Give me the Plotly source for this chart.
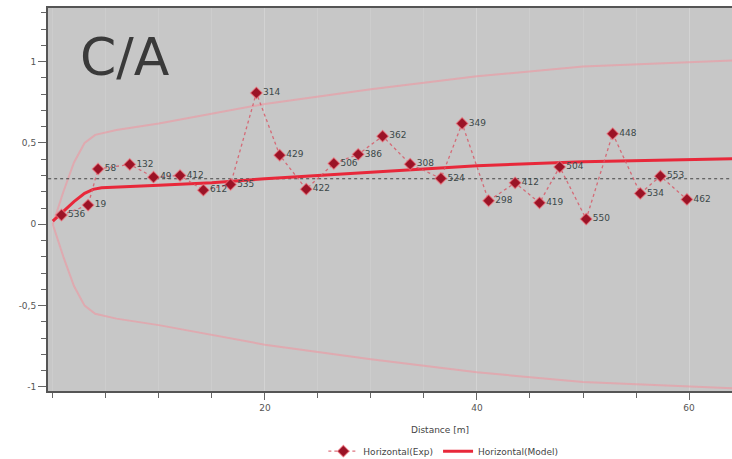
import plotly.graph_objects as go

# Experimental semivariogram points (distance in m, value) with pair-count labels
exp_dist = [0.82, 3.33, 4.27, 7.26, 9.5, 12.0, 14.2, 16.76, 19.2, 21.4, 23.9, 26.5, 28.8,
            31.1, 33.7, 36.6, 38.6, 41.1, 43.6, 45.9, 47.8, 50.3, 52.8, 55.4, 57.3, 59.8]
exp_value = [0.057, 0.118, 0.34, 0.368, 0.29, 0.30, 0.21, 0.245, 0.808, 0.425, 0.216, 0.374,
             0.43, 0.542, 0.37, 0.282, 0.62, 0.145, 0.255, 0.132, 0.353, 0.032, 0.557,
             0.19, 0.296, 0.153]
exp_pairs = ["536", "19", "58", "132", "49", "412", "612", "535", "314", "429", "422", "506",
             "386", "362", "308", "524", "349", "298", "412", "419", "504", "550", "448",
             "534", "553", "462"]

# Fitted model curve
model_dist = [0, 1, 2, 3, 3.8, 4.6, 6, 10, 15, 20, 30, 40, 50, 60, 65]
model_value = [0.02, 0.08, 0.14, 0.19, 0.215, 0.225, 0.23, 0.24, 0.255, 0.28, 0.32, 0.36,
               0.385, 0.40, 0.405]

# Confidence envelope (upper; the lower one is its mirror)
env_dist = [0, 1, 2, 3, 4, 6, 10, 20, 30, 40, 50, 60, 65]
env_upper = [0.0, 0.2, 0.38, 0.5, 0.55, 0.58, 0.62, 0.74, 0.83, 0.91, 0.97, 1.0, 1.01]
env_lower = [-v for v in env_upper]

sill = 0.28

fig = go.Figure()

for env in (env_upper, env_lower):
    fig.add_trace(go.Scatter(x=env_dist, y=env, mode="lines", showlegend=False,
                             line=dict(color="rgba(238,150,160,0.6)", width=2),
                             hoverinfo="skip"))

fig.add_trace(go.Scatter(x=[-1, 70], y=[sill, sill], mode="lines", showlegend=False,
                         line=dict(color="#444444", width=1, dash="dot"),
                         hoverinfo="skip"))

fig.add_trace(go.Scatter(x=model_dist, y=model_value, mode="lines", name="Horizontal(Model)",
                         line=dict(color="#e8283a", width=3)))

fig.add_trace(go.Scatter(x=exp_dist, y=exp_value, mode="lines+markers+text",
                         name="Horizontal(Exp)", text=exp_pairs, textposition="middle right",
                         textfont=dict(family="DejaVu Sans", size=9, color="#3c4848"),
                         line=dict(color="rgba(215,90,105,0.85)", width=1.3, dash="dot"),
                         marker=dict(symbol="diamond", size=9, color="#9b1326",
                                     line=dict(color="rgba(245,120,130,0.6)", width=1.2))))

fig.update_layout(
    width=732, height=459,
    margin=dict(l=48, r=0, t=8, b=68, autoexpand=False),
    paper_bgcolor="white",
    plot_bgcolor="#c7c7c7",
    separators=",.",
    font=dict(family="DejaVu Sans", size=9, color="#555555"),
    showlegend=True,
    legend=dict(orientation="h", x=0.578, y=-0.157, xanchor="center", yanchor="middle",
                font=dict(size=9, color="#444444"), bgcolor="rgba(0,0,0,0)",
                traceorder="reversed"),
    xaxis=dict(range=[-0.45, 64.05], tickvals=[20, 40, 60], ticks="outside", ticklen=7,
               tickcolor="#666666", showline=True, linecolor="#555555", linewidth=2,
               mirror=True, showgrid=True, gridcolor="rgba(255,255,255,0.12)",
               zeroline=False,
               minor=dict(dtick=5, tick0=0, ticks="outside", ticklen=5, tickcolor="#666666",
                          showgrid=True, gridcolor="rgba(255,255,255,0.12)")),
    yaxis=dict(range=[-1.025, 1.33], tickvals=[-1, -0.5, 0, 0.5, 1],
               ticktext=["-1", "-0,5", "0", "0,5", "1"], ticks="outside", ticklen=8,
               tickcolor="#666666", showline=True, linecolor="#555555", linewidth=2,
               showgrid=False, zeroline=False,
               minor=dict(dtick=0.1, tick0=0, ticks="outside", ticklen=5,
                          tickcolor="#666666", showgrid=False)),
    annotations=[
        dict(text="Distance [m]", xref="paper", yref="paper", x=0.573, y=-0.102,
             xanchor="center", yanchor="middle",
             showarrow=False, font=dict(size=9, color="#444444")),
        dict(text="C/A", xref="paper", yref="paper", x=0.044, y=0.955,
             xanchor="left", yanchor="top", showarrow=False,
             font=dict(family="DejaVu Sans", size=52, color="#3a3a3a")),
    ],
)

fig.write_html("out.html")
